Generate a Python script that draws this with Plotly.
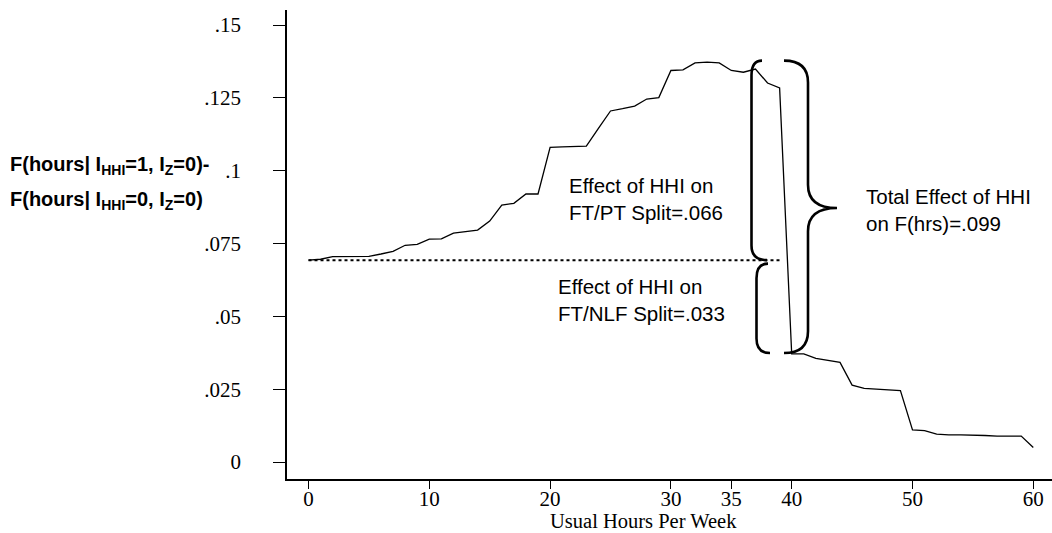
import plotly.graph_objects as go

# ---------------- data ----------------
hours = list(range(0, 61))
f_diff = [
    0.0693, 0.0696, 0.0705, 0.0705, 0.0705, 0.0706, 0.0714, 0.0723, 0.0744, 0.0747,
    0.0765, 0.0766, 0.0786, 0.0791, 0.0796, 0.0827, 0.0882, 0.0888, 0.0920, 0.0920,
    0.1080, 0.1082, 0.1083, 0.1084, 0.1145, 0.1205, 0.1213, 0.1222, 0.1246, 0.1251,
    0.1344, 0.1346, 0.1370, 0.1373, 0.1370, 0.1344, 0.1338, 0.1349, 0.1301, 0.1284,
    0.0371, 0.0371, 0.0356, 0.0349, 0.0342, 0.0264, 0.0253, 0.0250, 0.0247, 0.0245,
    0.0110, 0.0108, 0.0096, 0.0093, 0.0093, 0.0093, 0.0091, 0.0089, 0.0089, 0.0089,
    0.0050,
]
y_tickvals = [0, 0.025, 0.05, 0.075, 0.1, 0.125, 0.15]
y_ticktext = ["0", ".025", ".05", ".075", ".1", ".125", ".15"]
x_tickvals = [0, 10, 20, 30, 35, 40, 50, 60]
x_ticktext = ["0", "10", "20", "30", "35", "40", "50", "60"]

# ---------------- pixel <-> data helpers (layout only) ----------------
X0_PX, PX_PER_H = 308.5, 12.08
Y0_PX, PX_PER_V = 462.0, 2913.0
PLOT_L, PLOT_R, PLOT_T, PLOT_B = 287, 1052, 10, 479


def hx(px):
    return (px - X0_PX) / PX_PER_H


def vy(py):
    return (Y0_PX - py) / PX_PER_V


def pxp(px):
    return (px - PLOT_L) / (PLOT_R - PLOT_L)


def pyp(py):
    return (PLOT_B - py) / (PLOT_B - PLOT_T)


SERIF = "Liberation Serif, Times New Roman, serif"
SANS = "Liberation Sans, Arial, sans-serif"

fig = go.Figure()

base = f_diff[0]
fig.add_trace(go.Scatter(
    x=[hours[0], hours[39]], y=[base, base], mode="lines",
    line=dict(color="black", width=2, dash="dot"), showlegend=False, hoverinfo="skip"))

fig.add_trace(go.Scatter(
    x=hours, y=f_diff, mode="lines",
    line=dict(color="black", width=1.3), showlegend=False))

# ---------------- braces ----------------
top = max(f_diff)
bottom = f_diff[40]
mid = (top + bottom) / 2.0


def big_brace(x_end, x_vert, x_tip, y_top, y_bot, y_mid, d1, d2):
    return (f"M {x_end},{y_top} Q {x_vert},{y_top} {x_vert},{y_top - d1} "
            f"L {x_vert},{y_mid + d2} Q {x_vert},{y_mid} {x_tip},{y_mid} "
            f"Q {x_vert},{y_mid} {x_vert},{y_mid - d2} "
            f"L {x_vert},{y_bot + d1} Q {x_vert},{y_bot} {x_end},{y_bot}")


def paren(x_top, x_vert, x_bot, y_top, y_bot, d):
    return (f"M {x_top},{y_top} Q {x_vert},{y_top} {x_vert},{y_top - d} "
            f"L {x_vert},{y_bot + d} Q {x_vert},{y_bot} {x_bot},{y_bot}")


shapes = [
    dict(type="path", xref="x", yref="y",
         path=big_brace(hx(784), hx(808), hx(837), top + 0.0005, bottom + 0.0003, mid, 0.0075, 0.008),
         line=dict(color="black", width=2.6)),
    dict(type="path", xref="x", yref="y",
         path=paren(hx(762), hx(751.5), hx(767), top + 0.0005, base, 0.005),
         line=dict(color="black", width=2.6)),
    dict(type="path", xref="x", yref="y",
         path=paren(hx(768), hx(756.5), hx(770), base - 0.0012, bottom + 0.0003, 0.005),
         line=dict(color="black", width=2.6)),
]

annotations = [
    dict(x=pxp(567), y=pyp(199), xref="paper", yref="paper", xanchor="left", yanchor="middle", align="left",
         text="Effect of HHI on<br>FT/PT Split=.066", showarrow=False,
         font=dict(family=SANS, size=20.5, color="black")),
    dict(x=pxp(556), y=pyp(300), xref="paper", yref="paper", xanchor="left", yanchor="middle", align="left",
         text="Effect of HHI on<br>FT/NLF Split=.033", showarrow=False,
         font=dict(family=SANS, size=20.5, color="black")),
    dict(x=pxp(864), y=pyp(210), xref="paper", yref="paper", xanchor="left", yanchor="middle", align="left",
         text="Total Effect of HHI<br>on F(hrs)=.099", showarrow=False,
         font=dict(family=SANS, size=20.5, color="black")),
    dict(x=pxp(643.5), y=pyp(520.5), xref="paper", yref="paper", xanchor="center", yanchor="middle",
         text="Usual Hours Per Week", showarrow=False,
         font=dict(family=SERIF, size=20.5, color="black")),
    dict(x=pxp(8), y=pyp(165), xref="paper", yref="paper", xanchor="left", yanchor="middle",
         text="<b>F(hours| I<sub>HHI</sub>=1, I<sub>Z</sub>=0)-</b>", showarrow=False,
         font=dict(family=SANS, size=20, color="black")),
    dict(x=pxp(8), y=pyp(200), xref="paper", yref="paper", xanchor="left", yanchor="middle",
         text="<b>F(hours| I<sub>HHI</sub>=0, I<sub>Z</sub>=0)</b>", showarrow=False,
         font=dict(family=SANS, size=20, color="black")),
]

fig.update_layout(
    width=1052, height=533,
    margin=dict(l=PLOT_L, r=1052 - PLOT_R, t=PLOT_T, b=533 - PLOT_B, pad=0),
    paper_bgcolor="white", plot_bgcolor="white",
    shapes=shapes, annotations=annotations,
    showlegend=False,
    xaxis=dict(range=[hx(PLOT_L), hx(PLOT_R)], showline=True, linecolor="black", linewidth=1.5,
               ticks="outside", ticklen=8, tickwidth=1.2, tickcolor="black",
               tickvals=x_tickvals, ticktext=x_ticktext, showgrid=False, zeroline=False,
               ticklabelstandoff=-8,
               tickfont=dict(family=SERIF, size=21, color="black")),
    yaxis=dict(range=[vy(PLOT_B), vy(PLOT_T)], showline=True, linecolor="black", linewidth=1.5,
               ticks="outside", ticklen=12, tickwidth=1.2, tickcolor="black",
               tickvals=y_tickvals, ticktext=y_ticktext, showgrid=False, zeroline=False,
               ticklabelstandoff=28,
               tickfont=dict(family=SERIF, size=21, color="black")),
)

fig.write_html("out.html")
